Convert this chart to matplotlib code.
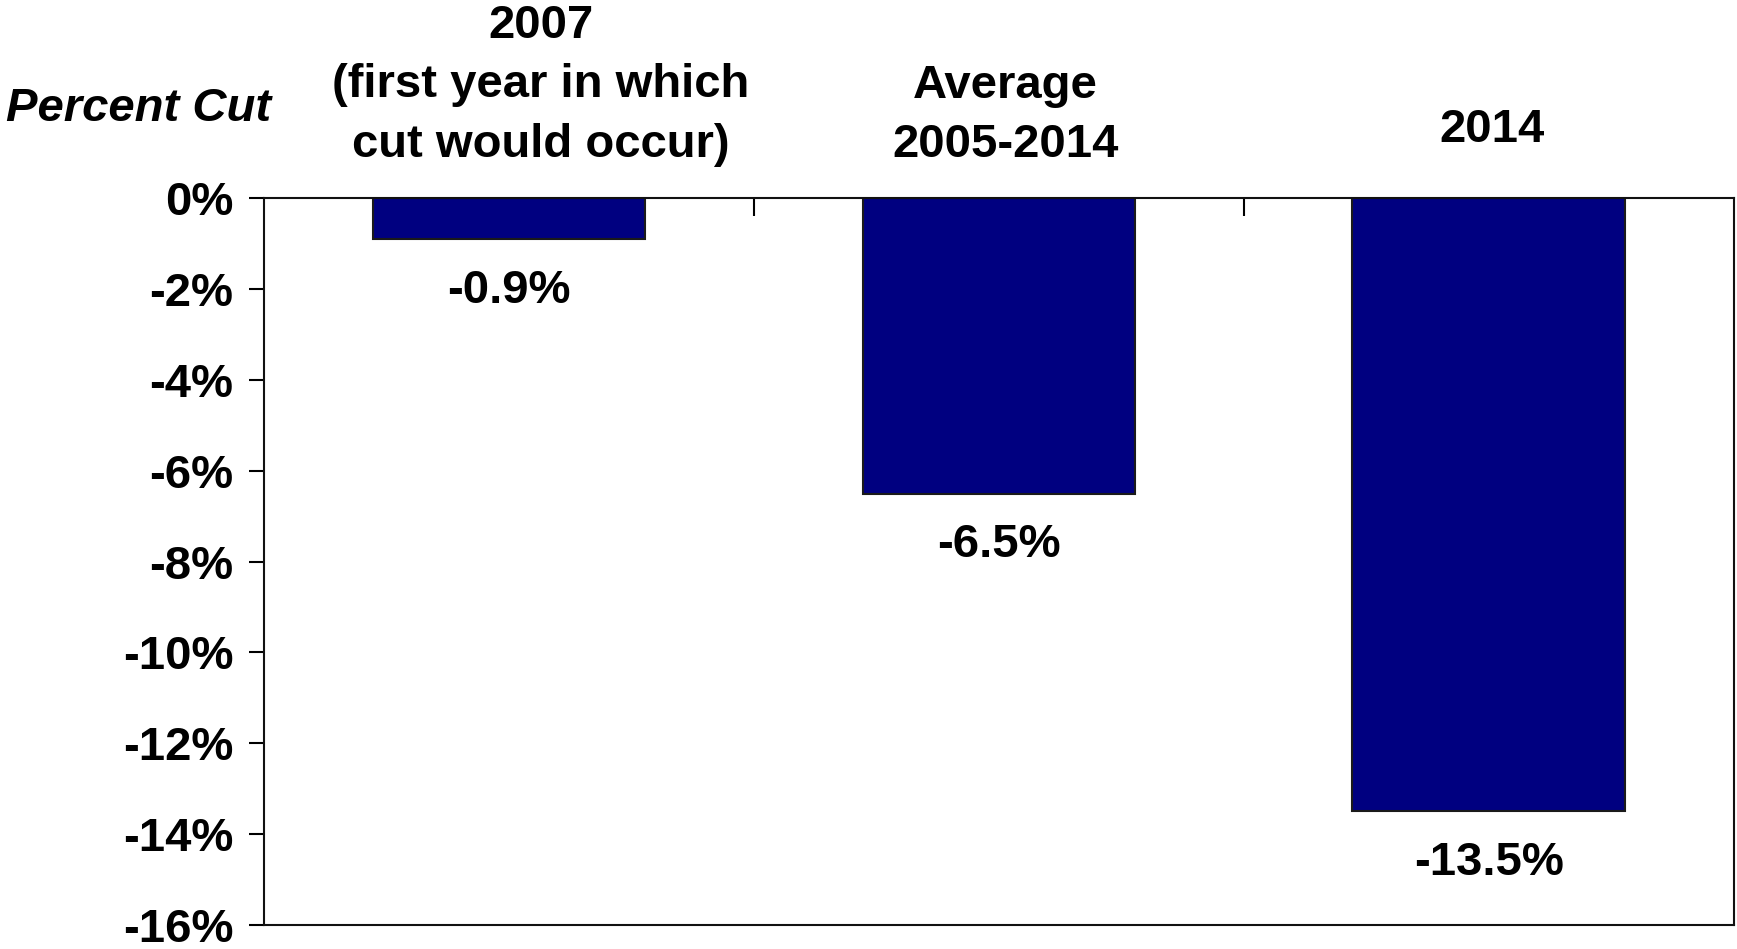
# percent cut bar chart

import matplotlib
matplotlib.use("Agg")
import matplotlib.pyplot as plt
import matplotlib.transforms as mtransforms

# data
categories = ["2007\n(first year in which\ncut would occur)", "Average\n2005-2014", "2014"]
values = [-0.9, -6.5, -13.5]
value_labels = ["-0.9%", "-6.5%", "-13.5%"]
y_ticks = [0, -2, -4, -6, -8, -10, -12, -14, -16]
y_tick_labels = ["0%", "-2%", "-4%", "-6%", "-8%", "-10%", "-12%", "-14%", "-16%"]

plt.rcParams['font.family'] = ['Liberation Sans', 'DejaVu Sans']
fs = 34

fig = plt.figure(figsize=(17.37, 9.49), dpi=100)
ax = fig.add_axes([0.152, 0.0253, 0.846, 0.7657])

x = list(range(len(values)))
ax.bar(x, values, width=0.556, color='#000080', edgecolor='#1a1a1a', linewidth=1.5, zorder=2)

# подписи значений под столбцами
for xi, v, s in zip(x, values, value_labels):
    ax.annotate(s, (xi, v), xytext=(0, -37), textcoords='offset points',
                ha='center', va='center', fontsize=fs, fontweight='bold')

ax.set_xlim(-0.5, 2.5)
ax.set_ylim(-16, 0)
ax.set_yticks(y_ticks)
ax.set_yticklabels(y_tick_labels, fontsize=fs, fontweight='bold')
ax.tick_params(axis='y', direction='out', length=11, width=1.5, pad=11)

# деления между категориями сверху, внутрь
ax.xaxis.tick_top()
ax.set_xticks([0.5, 1.5])
ax.set_xticklabels([])
ax.tick_params(axis='x', direction='in', length=13, width=1.5)

for sp in ax.spines.values():
    sp.set_linewidth(1.5)
    sp.set_color('#111111')

# подписи категорий сверху
trans = mtransforms.blended_transform_factory(ax.transData, fig.transFigure)
label_pos = [(0.065, 77), (0.013, 104), (0.007, 117)]
for xi, lab, (dx, ypix) in zip(x, categories, label_pos):
    yf = 1 - ypix * 1.1078 / 949
    ax.text(xi + dx, yf, lab, transform=trans, ha='center', va='center',
            fontsize=fs, fontweight='bold', linespacing=1.45)

fig.text(5.5 / 1737, 1 - 109 / 949, "Percent Cut", ha='left', va='center',
         fontsize=fs, fontweight='bold', fontstyle='italic')

fig.savefig("out.png", dpi=100)
